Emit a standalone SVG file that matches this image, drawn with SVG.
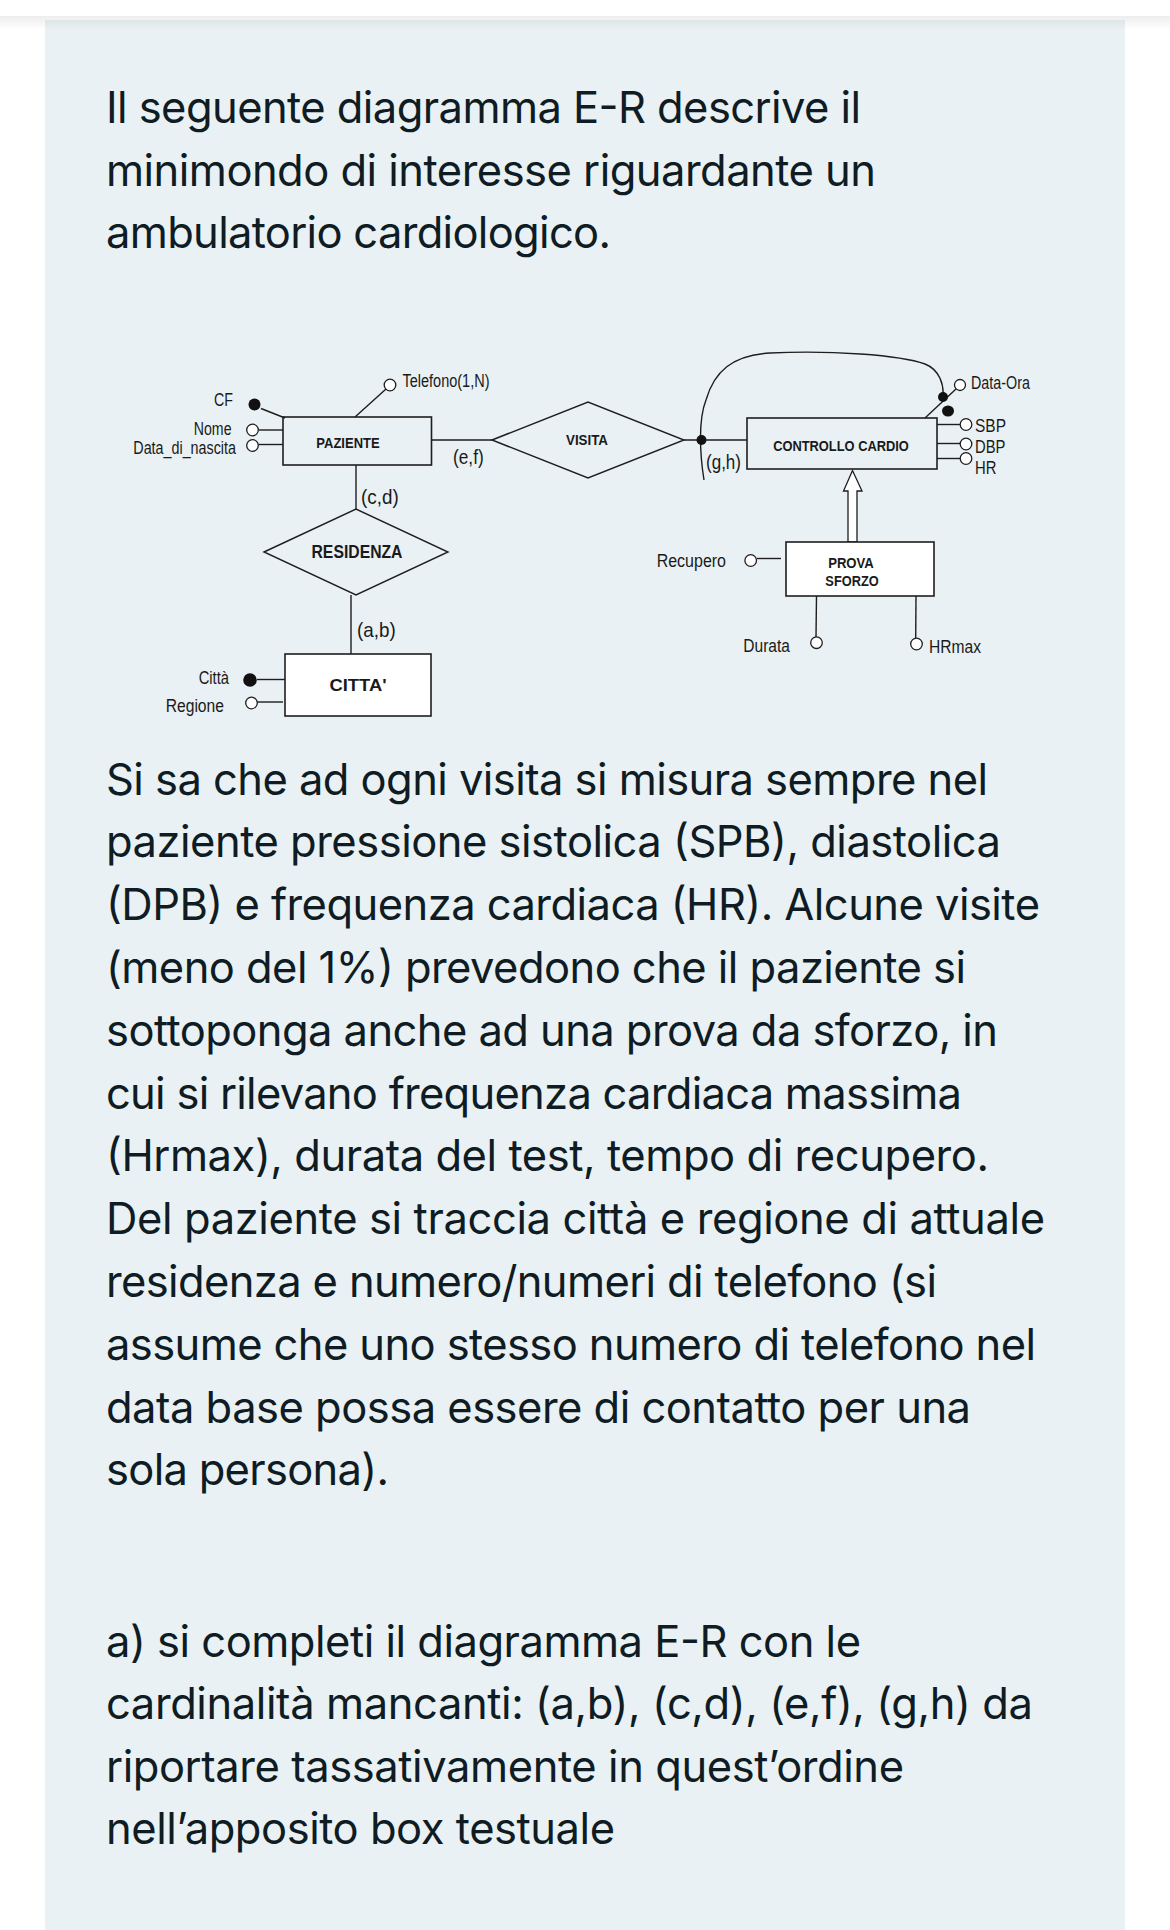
<svg xmlns="http://www.w3.org/2000/svg" width="1170" height="1930" viewBox="0 0 1170 1930">
<defs>
<linearGradient id="shadow" x1="0" y1="0" x2="0" y2="1">
<stop offset="0" stop-color="#000" stop-opacity="0.07"/>
<stop offset="1" stop-color="#000" stop-opacity="0"/>
</linearGradient>
<style>
.body{font-family:Inter,"Liberation Sans",Arial,sans-serif;font-size:43.5px;fill:#0f1c23}
.ln{stroke:#1e1e1e;stroke-width:1.4;fill:none}
.ent{fill:#e9f1f4;stroke:#1e1e1e;stroke-width:1.6}
.entw{fill:#ffffff;stroke:#1e1e1e;stroke-width:1.6}
.rel{fill:#e9f1f4;stroke:#1e1e1e;stroke-width:1.4}
.att{fill:#ffffff;stroke:#1e1e1e;stroke-width:1.3}
.key{fill:#111111}
.lbl{font-family:"Liberation Sans",Arial,sans-serif;font-size:17.5px;fill:#1a1a1a}
.nm{font-family:"Liberation Sans",Arial,sans-serif;font-weight:bold;font-size:15px;fill:#1a1a1a;text-anchor:middle}
.card{font-family:"Liberation Sans",Arial,sans-serif;font-size:21px;fill:#1a1a1a}
.end{text-anchor:end}
</style>
</defs>
<rect x="0" y="0" width="1170" height="1930" fill="#ffffff"/>
<rect x="45" y="20" width="1080" height="1910" fill="#e9f1f4"/>
<rect x="0" y="16" width="1170" height="14" fill="url(#shadow)"/>

<g id="intro">
<text class="body" x="106" y="123" textLength="755" lengthAdjust="spacing">Il seguente diagramma E-R descrive il</text>
<text class="body" x="106" y="185.5" textLength="770" lengthAdjust="spacing">minimondo di interesse riguardante un</text>
<text class="body" x="106" y="248" textLength="505" lengthAdjust="spacing">ambulatorio cardiologico.</text>
</g>

<g id="description">
<text class="body" x="106" y="794.5" textLength="882" lengthAdjust="spacing">Si sa che ad ogni visita si misura sempre nel</text>
<text class="body" x="106" y="857.3" textLength="895" lengthAdjust="spacing">paziente pressione sistolica (SPB), diastolica</text>
<text class="body" x="106" y="920.1" textLength="934" lengthAdjust="spacing">(DPB) e frequenza cardiaca (HR). Alcune visite</text>
<text class="body" x="106" y="982.9" textLength="860" lengthAdjust="spacing">(meno del 1%) prevedono che il paziente si</text>
<text class="body" x="106" y="1045.7" textLength="892" lengthAdjust="spacing">sottoponga anche ad una prova da sforzo, in</text>
<text class="body" x="106" y="1108.5" textLength="856" lengthAdjust="spacing">cui si rilevano frequenza cardiaca massima</text>
<text class="body" x="106" y="1171.3" textLength="883" lengthAdjust="spacing">(Hrmax), durata del test, tempo di recupero.</text>
<text class="body" x="106" y="1234.1" textLength="939" lengthAdjust="spacing">Del paziente si traccia città e regione di attuale</text>
<text class="body" x="106" y="1296.9" textLength="831" lengthAdjust="spacing">residenza e numero/numeri di telefono (si</text>
<text class="body" x="106" y="1359.7" textLength="930" lengthAdjust="spacing">assume che uno stesso numero di telefono nel</text>
<text class="body" x="106" y="1422.5" textLength="865" lengthAdjust="spacing">data base possa essere di contatto per una</text>
<text class="body" x="106" y="1485.3" textLength="283" lengthAdjust="spacing">sola persona).</text>
</g>

<g id="question">
<text class="body" x="106" y="1656.5" textLength="755" lengthAdjust="spacing">a) si completi il diagramma E-R con le</text>
<text class="body" x="106" y="1719" textLength="927" lengthAdjust="spacing">cardinalità mancanti: (a,b), (c,d), (e,f), (g,h) da</text>
<text class="body" x="106" y="1781.5" textLength="798" lengthAdjust="spacing">riportare tassativamente in quest’ordine</text>
<text class="body" x="106" y="1844" textLength="509" lengthAdjust="spacing">nell’apposito box testuale</text>
</g>

<g id="connectors">
<line class="ln" x1="431.5" y1="440" x2="492" y2="440"/>
<line class="ln" x1="684" y1="440" x2="747" y2="440"/>
<line class="ln" x1="356" y1="465" x2="356" y2="509"/>
<line class="ln" x1="351" y1="595" x2="351" y2="654"/>
<path class="ln" d="M704,480 C700,455 698,420 706,400 C714,372 732,355 770,353 C830,350 900,355 925,364 C940,370 944,385 943,397"/>
<circle class="key" cx="701.5" cy="440" r="5"/>
<text class="card" x="453" y="463.5" textLength="30.7" lengthAdjust="spacingAndGlyphs">(e,f)</text>
<text class="card" x="361" y="503.5" textLength="37.7" lengthAdjust="spacingAndGlyphs">(c,d)</text>
<text class="card" x="357" y="636.5" textLength="38.7" lengthAdjust="spacingAndGlyphs">(a,b)</text>
<text class="card" x="706" y="468.5" textLength="35" lengthAdjust="spacingAndGlyphs">(g,h)</text>
<polygon class="att" points="852.5,470.5 843.5,491 848,491 848,542 857,542 857,491 862,491"/>
</g>

<g id="paziente">
<rect class="ent" x="283" y="417" width="148.5" height="48"/>
<text class="nm" x="348" y="448" textLength="63.3" lengthAdjust="spacingAndGlyphs">PAZIENTE</text>
<line class="ln" x1="261" y1="408.5" x2="285" y2="418"/>
<circle class="key" cx="254.5" cy="404.5" r="6"/>
<text class="lbl end" x="233" y="405.5" textLength="19" lengthAdjust="spacingAndGlyphs">CF</text>
<line class="ln" x1="258.5" y1="430" x2="283" y2="430"/>
<circle class="att" cx="252.5" cy="430" r="5.8"/>
<text class="lbl end" x="231.5" y="435" textLength="37.7" lengthAdjust="spacingAndGlyphs">Nome</text>
<line class="ln" x1="258.5" y1="444.5" x2="283" y2="444.5"/>
<circle class="att" cx="252.5" cy="445.5" r="5.8"/>
<text class="lbl end" x="236" y="453.5" textLength="102.7" lengthAdjust="spacingAndGlyphs">Data_di_nascita</text>
<line class="ln" x1="355" y1="417" x2="386" y2="389"/>
<circle class="att" cx="390" cy="385" r="5.8"/>
<text class="lbl" x="402.5" y="387" textLength="87" lengthAdjust="spacingAndGlyphs">Telefono(1,N)</text>
</g>

<g id="visita">
<polygon class="rel" points="492,440 588,402 684,440 588,478"/>
<text class="nm" x="587" y="445" textLength="42" lengthAdjust="spacingAndGlyphs">VISITA</text>
</g>

<g id="residenza">
<polygon class="rel" points="264,552 356,509 448,552 356,595"/>
<text class="nm" x="357" y="558" style="font-size:17.5px" textLength="91" lengthAdjust="spacingAndGlyphs">RESIDENZA</text>
</g>

<g id="citta">
<rect class="entw" x="285" y="654" width="146" height="62"/>
<text class="nm" x="358" y="691" style="font-size:16px" textLength="57" lengthAdjust="spacingAndGlyphs">CITTA'</text>
<line class="ln" x1="257" y1="679.5" x2="285" y2="679.5"/>
<circle class="key" cx="250" cy="680" r="6.8"/>
<text class="lbl end" x="229" y="684" textLength="30.3" lengthAdjust="spacingAndGlyphs">Città</text>
<line class="ln" x1="257.5" y1="702" x2="283" y2="702"/>
<circle class="att" cx="251.5" cy="703" r="5.8"/>
<text class="lbl end" x="224" y="712" textLength="58.3" lengthAdjust="spacingAndGlyphs">Regione</text>
</g>

<g id="controllo-cardio">
<rect class="ent" x="747" y="418" width="190" height="51"/>
<text class="nm" x="841" y="450.5" textLength="135.7" lengthAdjust="spacingAndGlyphs">CONTROLLO CARDIO</text>
<line class="ln" x1="925" y1="418" x2="956" y2="389"/>
<circle class="att" cx="960" cy="385" r="5.5"/>
<circle class="key" cx="943" cy="397" r="5"/>
<ellipse class="key" cx="948" cy="411" rx="6" ry="5.5"/>
<text class="lbl" x="971" y="389" textLength="59" lengthAdjust="spacingAndGlyphs">Data-Ora</text>
<line class="ln" x1="937" y1="424.5" x2="960" y2="424.5"/>
<circle class="att" cx="966" cy="424.5" r="5.8"/>
<text class="lbl" x="975" y="432" textLength="31" lengthAdjust="spacingAndGlyphs">SBP</text>
<line class="ln" x1="937" y1="443.5" x2="960" y2="443.5"/>
<circle class="att" cx="966" cy="444" r="5.8"/>
<text class="lbl" x="975" y="452.5" textLength="30.4" lengthAdjust="spacingAndGlyphs">DBP</text>
<line class="ln" x1="937" y1="458.5" x2="960" y2="458.5"/>
<circle class="att" cx="966" cy="458.5" r="5.8"/>
<text class="lbl" x="975" y="474" textLength="21.4" lengthAdjust="spacingAndGlyphs">HR</text>
</g>

<g id="prova-sforzo">
<rect class="entw" x="786" y="542" width="148" height="54"/>
<text class="nm" x="851" y="567.5" style="font-size:14.5px" textLength="45.7" lengthAdjust="spacingAndGlyphs">PROVA</text>
<text class="nm" x="852" y="585.5" style="font-size:14.5px" textLength="53.3" lengthAdjust="spacingAndGlyphs">SFORZO</text>
<line class="ln" x1="757" y1="558.5" x2="781" y2="558.5"/>
<circle class="att" cx="750.7" cy="560.5" r="5.8"/>
<text class="lbl end" x="726" y="567" textLength="69.3" lengthAdjust="spacingAndGlyphs">Recupero</text>
<line class="ln" x1="816.5" y1="596" x2="816" y2="637"/>
<circle class="att" cx="816.5" cy="642.7" r="5.8"/>
<text class="lbl end" x="790" y="652" textLength="46.7" lengthAdjust="spacingAndGlyphs">Durata</text>
<line class="ln" x1="916" y1="596" x2="915.7" y2="638"/>
<circle class="att" cx="916.5" cy="644" r="5.8"/>
<text class="lbl" x="929" y="653" textLength="52" lengthAdjust="spacingAndGlyphs">HRmax</text>
</g>
</svg>
